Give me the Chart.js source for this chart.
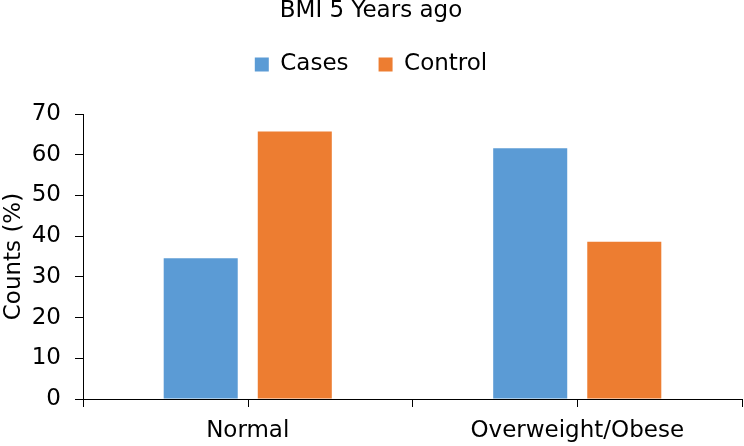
<!DOCTYPE html>
<html>
<head>
<meta charset="utf-8">
<script src="https://cdn.jsdelivr.net/npm/chart.js@4.4.1/dist/chart.umd.min.js"></script>
<style>
  html, body { margin: 0; padding: 0; background: #ffffff; }
  canvas { display: block; }
</style>
</head>
<body>
<canvas id="c" width="744" height="446" style="width:744px;height:446px"></canvas>
<script>
const categories = ['Normal', 'Overweight/Obese'];
const casesValues = [34.6, 61.6];
const controlValues = [65.7, 38.6];
const yMin = 0;
const yMax = 70;
const yStep = 10;

const FONT = "'DejaVu Sans', sans-serif";
Chart.defaults.font.family = FONT;
Chart.defaults.color = '#000000';

const centerTicks = {
  id: 'centerTicks',
  afterDraw(chart) {
    const xs = chart.scales.x;
    const ctx = chart.ctx;
    ctx.save();
    ctx.strokeStyle = '#000000';
    ctx.lineWidth = 1;
    categories.forEach((c, i) => {
      const px = Math.round(xs.getPixelForValue(i)) + 0.5;
      ctx.beginPath();
      ctx.moveTo(px, xs.top);
      ctx.lineTo(px, xs.top + 8);
      ctx.stroke();
    });
    ctx.restore();
  }
};

new Chart(document.getElementById('c'), {
  type: 'bar',
  data: {
    labels: categories,
    datasets: [
      { label: 'Cases', data: casesValues, backgroundColor: '#5B9BD5',
        categoryPercentage: 0.571, barPercentage: 0.787 },
      { label: 'Control', data: controlValues, backgroundColor: '#ED7D31',
        categoryPercentage: 0.571, barPercentage: 0.787 }
    ]
  },
  options: {
    responsive: false,
    animation: false,
    layout: { padding: { top: 0, right: 2, bottom: 0, left: 0 } },
    plugins: {
      title: {
        display: true,
        text: 'BMI 5 Years ago',
        color: '#000000',
        font: { size: 23, weight: 'normal', lineHeight: '23px' },
        padding: { top: 0, bottom: 0 }
      },
      subtitle: {
        display: true,
        text: '',
        weight: 500,
        font: { size: 1, lineHeight: '28px' },
        padding: 0
      },
      legend: {
        display: true,
        position: 'top',
        labels: {
          boxWidth: 14,
          boxHeight: 14,
          padding: 30,
          color: '#000000',
          font: { size: 23 }
        }
      },
      tooltip: { enabled: false }
    },
    scales: {
      x: {
        type: 'category',
        offset: true,
        afterFit(scale) { scale.height = 47; },
        grid: {
          offset: true,
          drawOnChartArea: false,
          drawTicks: true,
          tickLength: 8,
          color: '#000000'
        },
        border: { display: true, color: '#000000', width: 1 },
        ticks: { color: '#000000', font: { size: 23 }, padding: 10, maxRotation: 0 }
      },
      y: {
        min: yMin,
        max: yMax,
        afterFit(scale) { scale.width = 83; },
        grid: {
          drawOnChartArea: false,
          drawTicks: true,
          tickLength: 8,
          color: '#000000'
        },
        border: { display: true, color: '#000000', width: 1 },
        ticks: { stepSize: yStep, color: '#000000', font: { size: 23 }, padding: 14 },
        title: {
          display: true,
          text: 'Counts (%)',
          color: '#000000',
          font: { size: 23 },
          padding: 0
        }
      }
    }
  },
  plugins: [centerTicks]
});
</script>
</body>
</html>
